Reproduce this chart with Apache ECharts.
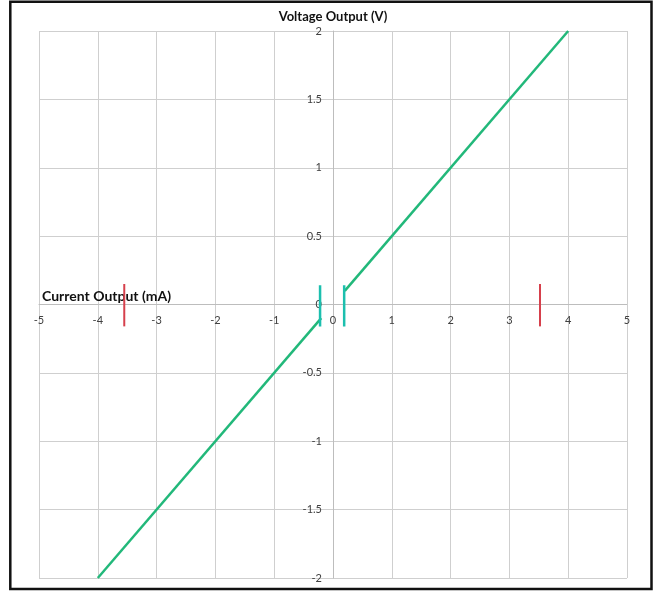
<!DOCTYPE html>
<html>
<head>
<meta charset="utf-8">
<script src="https://cdn.jsdelivr.net/npm/echarts@6/dist/echarts.min.js"></script>
<style>
	html, body { margin: 0; padding: 0; background: #fff; }
	#chart { width: 655px; height: 592px; }
</style>
</head>
<body>
<div id="chart"></div>
<script>
	// transfer curve, current (mA) vs voltage (V)
	var negLine = [[-4, -2], [-0.2, -0.1]];
	var posLine = [[0.2, 0.1], [4, 2]];
	var leftStep = [[-0.22, 0.14], [-0.22, -0.16]];
	var rightStep = [[0.19, 0.14], [0.19, -0.16]];
	var leftLimit = [[-3.55, 0.15], [-3.55, -0.16]];
	var rightLimit = [[3.52, 0.15], [3.52, -0.16]];

	var xTicks = [-5, -4, -3, -2, -1, 0, 1, 2, 3, 4, 5];
	var yTicks = [-2, -1.5, -1, -0.5, 0, 0.5, 1, 1.5, 2];

	var myChart = echarts.init(document.getElementById('chart'));

	var gridColor = '#cfcfcf';
	var labelStyle = { color: '#404040', fontSize: 11, fontFamily: 'Lato' };
	var gridBox = { left: 39, right: 28, top: 31, bottom: 14 };
	var plotW = 655 - gridBox.left - gridBox.right;
	var plotH = 592 - gridBox.top - gridBox.bottom;
	var xMin = xTicks[0], xMax = xTicks[xTicks.length - 1];
	var yMin = yTicks[0], yMax = yTicks[yTicks.length - 1];
	// move both axes (line + labels) onto the zero crossing
	var yAxisShift = -plotW * (0 - xMin) / (xMax - xMin);
	var xAxisShift = -plotH * (0 - yMin) / (yMax - yMin);

	function seg(data, color, width) {
		return {
			type: 'line',
			data: data,
			showSymbol: false,
			silent: true,
			animation: false,
			lineStyle: { color: color, width: width }
		};
	}

	myChart.setOption({
		animation: false,
		grid: gridBox,
		graphic: [{
			type: 'rect',
			shape: { x: 10.3, y: 1.8, width: 641.2, height: 587.2 },
			style: { fill: 'none', stroke: '#111', lineWidth: 2.5 }
		}],
		xAxis: {
			type: 'value',
			min: xMin,
			max: xMax,
			interval: 1,
			offset: xAxisShift,
			name: 'Current Output (mA)',
			nameLocation: 'start',
			nameGap: -3,
			nameTextStyle: {
				align: 'left', verticalAlign: 'bottom', padding: [0, 0, 1, 0],
				color: '#111', fontWeight: 'bold', fontSize: 14, fontFamily: 'Lato'
			},
			axisLine: { onZero: false, lineStyle: { color: '#bdbdbd' } },
			axisTick: { show: false },
			axisLabel: Object.assign({ margin: 10 }, labelStyle),
			splitLine: { lineStyle: { color: gridColor } }
		},
		yAxis: {
			type: 'value',
			min: yMin,
			max: yMax,
			interval: 0.5,
			offset: yAxisShift,
			name: 'Voltage Output (V)',
			nameLocation: 'end',
			nameGap: 8,
			nameTextStyle: {
				color: '#111', fontWeight: 'bold', fontSize: 13, fontFamily: 'Lato'
			},
			axisLine: { onZero: false, lineStyle: { color: '#bdbdbd' } },
			axisTick: { show: false },
			axisLabel: Object.assign({ margin: 11 }, labelStyle),
			splitLine: { lineStyle: { color: gridColor } }
		},
		series: [
			seg(negLine, '#22b87a', 2.5),
			seg(posLine, '#22b87a', 2.5),
			seg(leftStep, '#1cbfae', 2.5),
			seg(rightStep, '#1cbfae', 2.5),
			seg(leftLimit, '#d6404c', 2),
			seg(rightLimit, '#d6404c', 2)
		]
	});
</script>
</body>
</html>
